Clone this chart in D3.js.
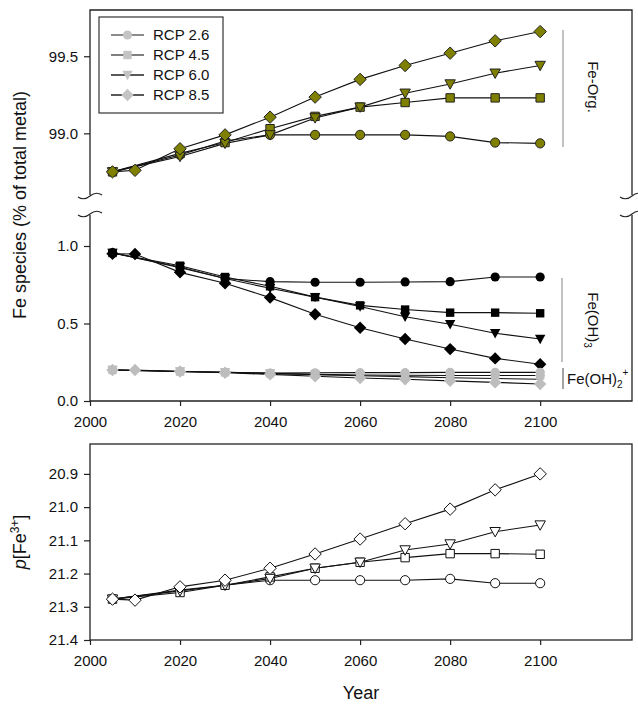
<!DOCTYPE html>
<html><head><meta charset="utf-8">
<script src="https://cdn.jsdelivr.net/npm/d3@7"></script>
<style>body{margin:0;background:#fff} svg{display:block} text{font-family:"Liberation Sans",Arial,sans-serif;fill:#111}</style>
</head><body>
<script>
// ---- data ----
const seriesNames = ["RCP 2.6", "RCP 4.5", "RCP 6.0", "RCP 8.5"];
const yearsStd = [2005, 2020, 2030, 2040, 2050, 2060, 2070, 2080, 2090, 2100];
const years85  = [2005, 2010, 2020, 2030, 2040, 2050, 2060, 2070, 2080, 2090, 2100];
const xTicks = [2000, 2020, 2040, 2060, 2080, 2100];

// Fe-Org (% of total metal)
const org26 = [98.75, 98.86, 98.95, 98.99, 98.99, 98.99, 98.99, 98.98, 98.94, 98.935];
const org45 = [98.75, 98.87, 98.94, 99.03, 99.11, 99.17, 99.20, 99.23, 99.23, 99.23];
const org60 = [98.75, 98.85, 98.935, 98.99, 99.10, 99.17, 99.26, 99.32, 99.39, 99.44];
const org85 = [98.75, 98.76, 98.90, 98.99, 99.105, 99.235, 99.35, 99.44, 99.52, 99.60, 99.66];

// Fe(OH)3
const oh3_26 = [0.957, 0.86, 0.79, 0.77, 0.766, 0.766, 0.768, 0.77, 0.80, 0.80];
const oh3_45 = [0.955, 0.873, 0.80, 0.74, 0.67, 0.617, 0.59, 0.57, 0.57, 0.566];
const oh3_60 = [0.955, 0.865, 0.79, 0.727, 0.67, 0.61, 0.544, 0.495, 0.437, 0.40];
const oh3_85 = [0.95, 0.948, 0.83, 0.76, 0.667, 0.56, 0.473, 0.40, 0.335, 0.275, 0.237];

// Fe(OH)2+
const oh2_26 = [0.20, 0.19, 0.185, 0.18, 0.182, 0.183, 0.183, 0.185, 0.185, 0.185];
const oh2_45 = [0.20, 0.19, 0.185, 0.178, 0.172, 0.168, 0.166, 0.165, 0.165, 0.165];
const oh2_60 = [0.20, 0.19, 0.185, 0.177, 0.17, 0.163, 0.157, 0.15, 0.145, 0.14];
const oh2_85 = [0.20, 0.20, 0.19, 0.182, 0.172, 0.16, 0.148, 0.14, 0.13, 0.12, 0.11];

// p[Fe3+]
const pfe26 = [21.277, 21.25, 21.235, 21.22, 21.22, 21.22, 21.22, 21.216, 21.229, 21.229];
const pfe45 = [21.277, 21.257, 21.235, 21.21, 21.184, 21.166, 21.152, 21.14, 21.14, 21.142];
const pfe60 = [21.277, 21.252, 21.235, 21.215, 21.184, 21.166, 21.129, 21.111, 21.074, 21.054];
const pfe85 = [21.277, 21.28, 21.24, 21.22, 21.184, 21.141, 21.096, 21.05, 21.006, 20.948, 20.9];

const topTicks = [99.0, 99.5];
const midTicks = [0.0, 0.5, 1.0];
const botTicks = [20.9, 21.0, 21.1, 21.2, 21.3, 21.4];

// ---- drawing ----
const W = 638, H = 705, L = 90, R = 632;
const svg = d3.select("body").append("svg").attr("width", W).attr("height", H);

const x = d3.scaleLinear().domain([2000, 2120.4]).range([L, R]);
const yTop = d3.scaleLinear().domain([98.6, 99.8]).range([195, 10]);
const yMid = d3.scaleLinear().domain([0, 1.2]).range([401, 215]);
const yBot = d3.scaleLinear().domain([21.4, 20.81]).range([640, 444]);

const shapes = {
  circle: "M4.6,0A4.6,4.6 0 1,1 -4.6,0A4.6,4.6 0 1,1 4.6,0Z",
  square: "M-4.2,-4.2H4.2V4.2H-4.2Z",
  triDown: "M-5.2,-4.2L5.2,-4.2L0,5.2Z",
  diamond: "M0,-6.2L6.2,0L0,6.2L-6.2,0Z"
};
const shapeOf = ["circle", "square", "triDown", "diamond"];
const yearsOf = [yearsStd, yearsStd, yearsStd, years85];

function drawSet(valsList, yScale, fill, stroke) {
  const g = svg.append("g");
  valsList.forEach((vals, i) => {
    const pts = yearsOf[i].map((yr, j) => [yr, vals[j]]);
    g.append("path").datum(pts)
      .attr("fill", "none").attr("stroke", "#111").attr("stroke-width", 1.1)
      .attr("d", d3.line().x(d => x(d[0])).y(d => yScale(d[1])));
  });
  valsList.forEach((vals, i) => {
    const pts = yearsOf[i].map((yr, j) => [yr, vals[j]]);
    g.selectAll(null).data(pts).enter().append("path")
      .attr("d", shapes[shapeOf[i]])
      .attr("transform", d => `translate(${x(d[0])},${yScale(d[1])})`)
      .attr("fill", fill).attr("stroke", stroke).attr("stroke-width", stroke === "none" ? 0 : 1);
  });
}

drawSet([org26, org45, org60, org85], yTop, "#808000", "#222");
drawSet([oh3_26, oh3_45, oh3_60, oh3_85], yMid, "#000", "none");
drawSet([oh2_26, oh2_45, oh2_60, oh2_85], yMid, "#bdbdbd", "none");
drawSet([pfe26, pfe45, pfe60, pfe85], yBot, "#fff", "#111");

// frames
const frame = svg.append("g").attr("fill", "none").attr("stroke", "#222").attr("stroke-width", 1.3);
frame.append("path").attr("d", `M${L},${yTop.range()[0]}V${yTop.range()[1]}H${R}V${yTop.range()[0]}`);
frame.append("path").attr("d", `M${L},${yMid.range()[1]}V${yMid.range()[0]}H${R}V${yMid.range()[1]}`);
frame.append("rect").attr("x", L).attr("y", yBot.range()[1]).attr("width", R - L).attr("height", yBot.range()[0] - yBot.range()[1]);

// break marks
function brk(cx, cy) {
  frame.append("path").attr("stroke-width", 1.1)
    .attr("d", `M${cx - 12},${cy + 1} Q${cx - 6},${cy + 5} ${cx},${cy} Q${cx + 6},${cy - 5} ${cx + 12},${cy - 1}`);
}
[L, R].forEach(cx => { brk(cx, 196); brk(cx, 214); });

// axes
function styleAxis(g) {
  g.select(".domain").remove();
  g.selectAll("line").attr("stroke", "#222").attr("stroke-width", 1.2);
  g.selectAll("text").attr("font-size", 15).attr("fill", "#111").attr("font-family", '"Liberation Sans",Arial,sans-serif');
}
svg.append("g").attr("transform", `translate(${L},0)`)
  .call(d3.axisLeft(yTop).tickValues(topTicks).tickSize(6).tickPadding(6).tickFormat(d3.format(".1f"))).call(styleAxis);
svg.append("g").attr("transform", `translate(${L},0)`)
  .call(d3.axisLeft(yMid).tickValues(midTicks).tickSize(6).tickPadding(6).tickFormat(d3.format(".1f"))).call(styleAxis);
svg.append("g").attr("transform", `translate(${L},0)`)
  .call(d3.axisLeft(yBot).tickValues(botTicks).tickSize(6).tickPadding(6).tickFormat(d3.format(".1f"))).call(styleAxis);
svg.append("g").attr("transform", `translate(0,${yMid.range()[0]})`)
  .call(d3.axisBottom(x).tickValues(xTicks).tickSize(5).tickPadding(10).tickFormat(d3.format("d"))).call(styleAxis);
svg.append("g").attr("transform", `translate(0,${yBot.range()[0]})`)
  .call(d3.axisBottom(x).tickValues(xTicks).tickSize(5).tickPadding(10).tickFormat(d3.format("d"))).call(styleAxis);

// legend
const lg = svg.append("g");
lg.append("rect").attr("x", 99).attr("y", 17).attr("width", 124).attr("height", 96)
  .attr("fill", "#fff").attr("stroke", "#333").attr("stroke-width", 1.2);
const legLine = ["#666", "#555", "#222", "#222"];
seriesNames.forEach((nm, i) => {
  const yy = 35 + i * 20;
  lg.append("line").attr("x1", 111).attr("x2", 144).attr("y1", yy).attr("y2", yy)
    .attr("stroke", legLine[i]).attr("stroke-width", 1.3);
  lg.append("path").attr("d", shapes[shapeOf[i]]).attr("transform", `translate(127.5,${yy})`).attr("fill", "#c4c4c4");
  lg.append("text").attr("x", 153).attr("y", yy).attr("dy", "0.36em").attr("font-size", 15).text(nm);
});

// species annotations
const ann = svg.append("g");
ann.append("line").attr("x1", 563).attr("x2", 563).attr("y1", 30).attr("y2", 147).attr("stroke", "#999").attr("stroke-width", 1.2);
ann.append("text").attr("transform", "translate(588,87) rotate(90)").attr("text-anchor", "middle")
  .attr("font-size", 15).text("Fe-Org.");
ann.append("line").attr("x1", 562).attr("x2", 562).attr("y1", 278).attr("y2", 362).attr("stroke", "#999").attr("stroke-width", 1.2);
const t3 = ann.append("text").attr("transform", "translate(588,320) rotate(90)").attr("text-anchor", "middle").attr("font-size", 15);
t3.append("tspan").text("Fe(OH)");
t3.append("tspan").attr("font-size", 10).attr("dy", 4).text("3");
ann.append("line").attr("x1", 563).attr("x2", 563).attr("y1", 368).attr("y2", 389).attr("stroke", "#666").attr("stroke-width", 1.2);
const t2 = ann.append("text").attr("x", 567).attr("y", 384).attr("font-size", 15);
t2.append("tspan").text("Fe(OH)");
t2.append("tspan").attr("font-size", 10).attr("dy", 4).text("2");
t2.append("tspan").attr("font-size", 10).attr("dy", -12).text("+");

// axis titles
svg.append("text").attr("transform", "translate(26,205) rotate(-90)").attr("text-anchor", "middle")
  .attr("font-size", 18).text("Fe species (% of total metal)");
const pt = svg.append("text").attr("transform", "translate(26,542) rotate(-90)").attr("text-anchor", "middle").attr("font-size", 18);
pt.append("tspan").attr("font-style", "italic").text("p");
pt.append("tspan").text("[Fe");
pt.append("tspan").attr("font-size", 12).attr("dy", -7).text("3+");
pt.append("tspan").attr("dy", 7).text("]");
svg.append("text").attr("x", 361).attr("y", 699).attr("text-anchor", "middle").attr("font-size", 18).text("Year");
</script>
</body></html>
